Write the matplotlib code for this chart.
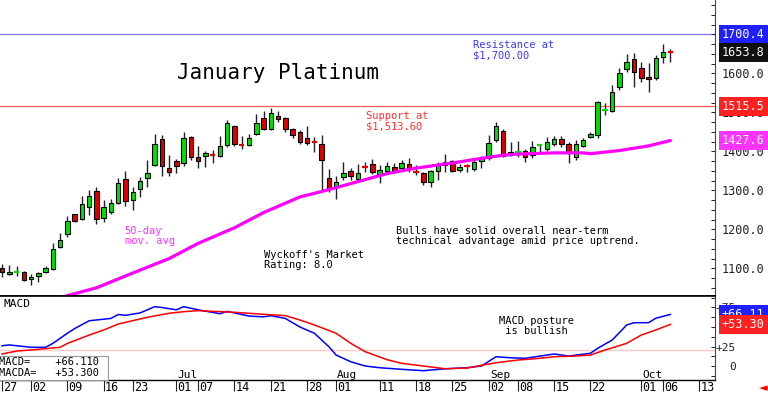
import matplotlib
matplotlib.use('Agg')
import matplotlib.pyplot as plt
from matplotlib.patches import Rectangle
from matplotlib.ticker import MultipleLocator
import numpy as np

plt.rcParams['font.family'] = ['DejaVu Sans Mono', 'DejaVu Sans']

# Daily candles, trading day 0 = May 27
opens = [1100, 1086, 1089, 1091, 1073, 1080, 1091, 1097, 1155, 1188,
         1238, 1227, 1258, 1297, 1228, 1244, 1268, 1328, 1275, 1304,
         1331, 1366, 1431, 1358, 1375, 1369, 1437, 1386, 1388, 1392,
         1389, 1416, 1466, 1417, 1415, 1444, 1485, 1457, 1490, 1485,
         1457, 1450, 1433, 1426, 1420, 1331, 1312, 1335, 1349, 1329,
         1362, 1367, 1342, 1350, 1359, 1356, 1367, 1349, 1345, 1322,
         1350, 1365, 1375, 1352, 1363, 1355, 1374, 1382, 1429, 1453,
         1390, 1396, 1401, 1390, 1414, 1406, 1419, 1431, 1420, 1386,
         1414, 1436, 1442, 1505, 1503, 1564, 1610, 1636, 1613, 1591,
         1587, 1643, 1654]
highs = [1111, 1108, 1105, 1093, 1085, 1090, 1105, 1164, 1190, 1234,
         1240, 1285, 1300, 1308, 1275, 1279, 1332, 1349, 1309, 1335,
         1378, 1444, 1442, 1390, 1380, 1449, 1440, 1414, 1401, 1403,
         1439, 1480, 1468, 1440, 1444, 1495, 1503, 1512, 1503, 1488,
         1459, 1455, 1466, 1437, 1442, 1355, 1337, 1373, 1356, 1367,
         1373, 1380, 1365, 1373, 1369, 1379, 1384, 1365, 1348, 1352,
         1373, 1392, 1379, 1367, 1367, 1382, 1388, 1442, 1476, 1456,
         1423, 1427, 1405, 1427, 1419, 1437, 1440, 1440, 1423, 1429,
         1435, 1450, 1530, 1525, 1570, 1613, 1649, 1651, 1628, 1626,
         1647, 1674, 1662]
lows = [1078, 1083, 1080, 1068, 1056, 1064, 1087, 1095, 1151, 1181,
        1220, 1225, 1237, 1214, 1220, 1240, 1266, 1260, 1250, 1282,
        1309, 1362, 1337, 1337, 1344, 1362, 1378, 1356, 1359, 1369,
        1385, 1412, 1414, 1406, 1414, 1442, 1455, 1455, 1476, 1450,
        1435, 1420, 1416, 1399, 1296, 1296, 1278, 1326, 1326, 1326,
        1348, 1341, 1318, 1344, 1346, 1352, 1348, 1339, 1314, 1309,
        1326, 1346, 1346, 1346, 1348, 1350, 1356, 1379, 1425, 1385,
        1388, 1386, 1373, 1382, 1395, 1402, 1414, 1412, 1371, 1378,
        1410, 1433, 1433, 1493, 1502, 1557, 1603, 1564, 1578, 1551,
        1583, 1626, 1628]
closes = [1090, 1090, 1090, 1070, 1079, 1087, 1100, 1149, 1172, 1221,
          1222, 1266, 1285, 1226, 1258, 1268, 1318, 1272, 1295, 1324,
          1344, 1419, 1362, 1347, 1362, 1433, 1386, 1376, 1395, 1390,
          1413, 1472, 1420, 1416, 1435, 1472, 1457, 1497, 1484, 1457,
          1442, 1425, 1421, 1425, 1378, 1303, 1322, 1345, 1336, 1345,
          1361, 1346, 1352, 1362, 1350, 1369, 1354, 1348, 1322, 1349,
          1367, 1373, 1350, 1361, 1362, 1373, 1382, 1422, 1465, 1388,
          1397, 1397, 1386, 1410, 1415, 1425, 1431, 1419, 1395, 1418,
          1429, 1444, 1526, 1506, 1553, 1601, 1628, 1603, 1587, 1585,
          1638, 1655, 1653.8]

# 50-day moving average (read at points along the line)
ma_days = [8, 13, 18, 23, 27, 32, 36, 41, 44, 46, 53, 57, 62, 66, 69, 71, 76, 80, 81, 85, 89, 92]
ma_vals = [1025, 1050, 1088, 1125, 1164, 1204, 1243, 1283, 1297, 1307, 1343, 1357,
           1370, 1382, 1390, 1393, 1396, 1396, 1394, 1402, 1414, 1427.6]

# MACD lines
macd_days = [0, 1, 4, 6, 7, 9, 10, 12, 13, 15, 16, 17, 19, 21, 22, 24, 25, 27, 30, 31,
             34, 36, 37, 39, 41, 43, 45, 46, 48, 50, 52, 55, 58, 61, 64, 66, 68, 70,
             72, 76, 78, 81, 82, 84, 86, 87, 89, 90, 92]
macd_vals = [26, 27, 24, 24, 29, 42, 48, 58, 59, 61, 66, 65, 68, 76, 75, 72, 76, 72, 67, 70,
             64, 63, 64.5, 61, 50, 42, 24.7, 14, 5.5, 0, -2.2, -4.2, -6, -3.5, -2.2, 0, 11.9, 10.6,
             9.9, 15.4, 12.8, 16.3, 22.7, 33.3, 52.6, 55.5, 55.5, 61.2, 66.11]
macda_days = [0, 2, 5, 8, 9, 12, 14, 16, 18, 20, 23, 25, 27, 32, 36, 39, 41, 43, 46, 48,
              50, 53, 55, 58, 61, 64, 66, 68, 71, 73, 76, 79, 81, 83, 86, 88, 90, 92]
macda_vals = [15.4, 19.2, 21.4, 24, 29, 39.7, 46.2, 53.8, 58.1, 62.4, 67.6, 69.6, 70.9, 68.8,
              66.3, 64.5, 59, 52.6, 41.9, 29.1, 18.3, 8.1, 3.5, 0, -3.5, -2.6, 0.9, 4.2, 7.7,
              9, 11.9, 12.8, 14.1, 20.5, 29.1, 39.7, 46.2, 53.3]

# Date axis
tick_days = [0, 4, 9, 14, 18, 24, 27, 32, 37, 42, 46, 52, 57, 62, 67, 71, 76, 81, 88, 91, 96]
tick_labels = ['27', '02', '09', '16', '23', '01', '07', '14', '21', '28', '01',
               '11', '18', '25', '02', '08', '15', '22', '01', '06', '13']
month_days = [24, 46, 67, 88]
month_labels = ['Jul', 'Aug', 'Sep', 'Oct']

resistance = 1700.4
support = 1515.5
last_price = 1653.8
ma_last = 1427.6
macd_last = 66.11
macda_last = 53.30
zero_ref = 20

fig = plt.figure(figsize=(7.68, 3.96), dpi=100)
ax = fig.add_axes([0, 100 / 396, 715 / 768, 296 / 396])
ax2 = fig.add_axes([0, 16 / 396, 715 / 768, 84 / 396], sharex=ax)

ax.set_xlim(-0.275, 98.15)
ax.set_ylim(1029, 1788)
ax2.set_ylim(-17.9, 89.7)

# Support / resistance lines
ax.axhline(resistance, color='#7878ff', lw=0.9, zorder=1)
ax.axhline(support, color='#ff5a5a', lw=0.9, zorder=1)

# Candles
o = np.array(opens, dtype=float)
h = np.array(highs, dtype=float)
l = np.array(lows, dtype=float)
c = np.array(closes, dtype=float)
days = np.arange(len(o))
up = c >= o
doji = np.abs(c - o) < 2.5
colors = np.where(up, '#00e000', '#e00000')

ax.vlines(days, l, h, color='#222222', lw=1.0, zorder=2)
body = ~doji
ax.bar(days[body], np.abs(c - o)[body], bottom=np.minimum(o, c)[body], width=0.62,
       color=colors[body], edgecolor='black', linewidth=0.8, zorder=3)
ax.hlines(c[doji], days[doji] - 0.38, days[doji] + 0.38, colors=colors[doji], lw=1.6, zorder=3)

# Moving average
ax.plot(ma_days, ma_vals, color='#ff00ff', lw=2.3, solid_capstyle='round', zorder=4)

# Annotations
ax.text(38.0, 1600, 'January Platinum', fontsize=15, ha='center', va='center')
ax.text(64.8, 1686, 'Resistance at\n$1,700.00', color='#3a3aff', fontsize=7.5,
        ha='left', va='top', linespacing=1.05)
ax.text(50.1, 1504, 'Support at\n$1,513.60', color='#ff3030', fontsize=7.5,
        ha='left', va='top', linespacing=1.05)
ax.text(16.9, 1209, '50-day\nmov. avg', color='#ff33ff', fontsize=7.5,
        ha='left', va='top', linespacing=1.05)
ax.text(36.1, 1148, "Wyckoff's Market\nRating: 8.0", fontsize=7.5,
        ha='left', va='top', linespacing=1.05)
ax.text(54.2, 1209, 'Bulls have solid overall near-term\ntechnical advantage amid price uptrend.',
        fontsize=7.5, ha='left', va='top', linespacing=1.05)

# Price axis on the right
ax.yaxis.tick_right()
ax.set_yticks(range(1100, 1800, 100))
ax.set_yticklabels(['%.1f' % v for v in range(1100, 1800, 100)])
ax.yaxis.set_minor_locator(MultipleLocator(25))
ax.tick_params(axis='y', which='both', direction='in', length=3, width=0.7, pad=5,
               labelsize=8.5, colors='#222222')
ax.tick_params(axis='x', which='both', bottom=False, labelbottom=False)

# MACD panel
ax2.axhline(zero_ref, color='#ffc8c8', lw=1.0, zorder=1)
ax2.plot(macd_days, macd_vals, color='#0000ff', lw=1.1, zorder=3)
ax2.plot(macda_days, macda_vals, color='#ff0000', lw=1.1, zorder=3)
ax2.text(0.2, 80, 'MACD', fontsize=8, ha='left', va='center')
ax2.text(68.4, 64, 'MACD posture\n is bullish', fontsize=7.5, ha='left', va='top', linespacing=1.05)

ax2.add_patch(Rectangle((-0.01, 0), 0.161, 0.29, transform=ax2.transAxes, fc='white',
                        ec='#999999', lw=0.8, zorder=5, clip_on=False))
ax2.text(-0.001, 0.145, 'MACD=    +66.110\nMACDA=   +53.300', transform=ax2.transAxes,
         fontsize=7.5, ha='left', va='center', linespacing=1.1, zorder=6)

ax2.yaxis.tick_right()
ax2.set_yticks([0, 25, 75])
ax2.set_yticklabels(['0', '+25', '+75'])
for lab in ax2.get_yticklabels():
    lab.set_horizontalalignment('right')
ax2.yaxis.set_minor_locator(MultipleLocator(12.5))
ax2.tick_params(axis='y', which='both', direction='in', length=3, width=0.7, pad=15,
                labelsize=8, colors='#222222')

# Date ticks and labels
ax2.set_xticks(tick_days)
ax2.set_xticklabels([])
ax2.tick_params(axis='x', direction='out', length=8, width=0.8, colors='#222222')
ax.tick_params(axis='x', which='both', bottom=False, labelbottom=False)
xt = ax2.get_xaxis_transform()
for d, lab in zip(tick_days, tick_labels):
    ax2.text(d + 0.15, -0.095, lab, transform=xt, fontsize=8.5, ha='left', va='center', clip_on=False)
for d, lab in zip(month_days, month_labels):
    ax2.text(d + 0.15, -11.5, lab, fontsize=8, ha='left', va='center')

# Spines
for a in (ax, ax2):
    a.spines['left'].set_visible(False)
    a.spines['right'].set_color('#444444')
    a.spines['right'].set_linewidth(0.8)
ax.spines['top'].set_visible(False)
ax.spines['bottom'].set_color('black')
ax.spines['bottom'].set_linewidth(1.2)
ax2.spines['top'].set_color('black')
ax2.spines['top'].set_linewidth(1.2)
ax2.spines['bottom'].set_color('black')
ax2.spines['bottom'].set_linewidth(1.0)

# Value tags on the right edge
def tag(axis, val, text, fc, size=8.5):
    axis.annotate(text, xy=(1, val), xycoords=('axes fraction', 'data'), xytext=(5, 0),
                  textcoords='offset points', ha='left', va='center', color='white',
                  fontsize=size, annotation_clip=False, zorder=10,
                  bbox=dict(boxstyle='square,pad=0.25', fc=fc, ec='none'))

tag(ax, resistance, '%.1f' % resistance, '#2020ff')
tag(ax, last_price, '%.1f' % last_price, '#111111')
tag(ax, support, '%.1f' % support, '#ff2020')
tag(ax, ma_last, '%.1f' % ma_last, '#ff33ff')
tag(ax2, macd_last, '%+.2f' % macd_last, '#2020ff')
tag(ax2, macda_last, '%+.2f' % macda_last, '#ff2020')

fig.text(763 / 768, 8 / 396, '\u25c4', color='red', fontsize=8, ha='center', va='center',
         family='DejaVu Sans')

fig.savefig('out.png', dpi=100)
